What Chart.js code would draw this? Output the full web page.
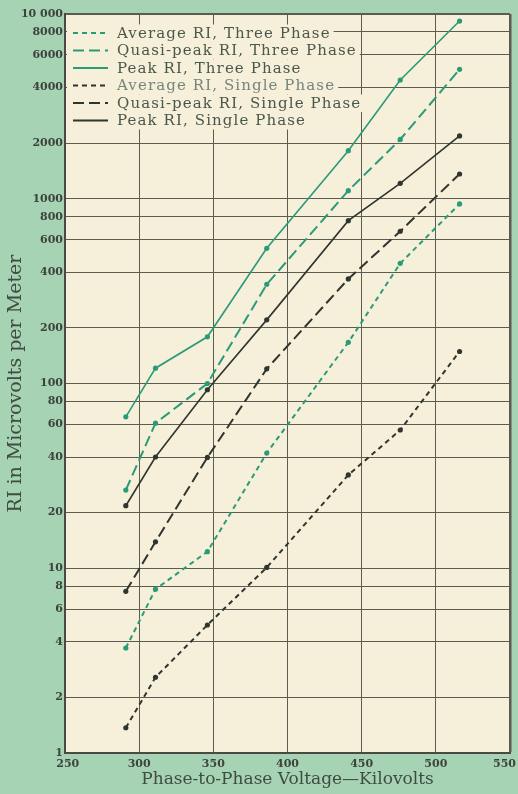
<!DOCTYPE html>
<html>
<head>
<meta charset="utf-8">
<script src="https://cdn.jsdelivr.net/npm/chart.js@4/dist/chart.umd.min.js"></script>
<style>
  html, body { margin: 0; padding: 0; background: #a6d3b4; }
  canvas { display: block; }
</style>
</head>
<body>
<canvas id="c" width="518" height="794" style="width:518px;height:794px"></canvas>
<script>
// ---- data ----
const voltages = [291, 311, 346, 386, 441, 476, 516];
const avgThree  = [3.7, 7.7, 12.3, 42, 167, 447, 937];
const qpThree   = [26.5, 61, 100, 344, 1106, 2095, 5017];
const peakThree = [66, 121, 179, 539, 1820, 4393, 9160];
const avgSingle  = [1.37, 2.57, 4.93, 10.1, 32, 56, 149];
const qpSingle   = [7.5, 13.9, 39.8, 120, 368, 667, 1361];
const peakSingle = [21.8, 40, 92.5, 221, 761, 1212, 2187];
const seriesLabels = [
  'Average RI, Three Phase',
  'Quasi-peak RI, Three Phase',
  'Peak RI, Three Phase',
  'Average RI, Single Phase',
  'Quasi-peak RI, Single Phase',
  'Peak RI, Single Phase'
];
const xTickValues = [250, 300, 350, 400, 450, 500, 550];
const xTickLabels = ['\u2002250', '300', '350', '400', '450', '500', '550\u2002\u2002'];
const yTickValues = [1, 2, 4, 6, 8, 10, 20, 40, 60, 80, 100, 200, 400, 600, 800, 1000, 2000, 4000, 6000, 8000, 10000];
const yTickLabels = ['1', '2', '4', '6', '8', '10', '20', '40', '60', '80', '100', '200', '400', '600', '800', '1000', '2000', '4000', '6000', '8000', '10 000'];
const xTitle = 'Phase-to-Phase Voltage\u2014Kilovolts';
const yTitle = 'RI in Microvolts per Meter';

// ---- styles ----
const TEAL = '#2a9b77';
const DARK = '#2f352f';
const GRID = '#5b5b52';
const CREAM = '#f6efda';
const TEXT = '#4a574b';
const SERIF = '"DejaVu Serif"';

function pts(arr) { return voltages.map((x, i) => ({ x: x, y: arr[i] })); }

const styles = [
  { color: TEAL, dash: [5, 4], width: 2 },
  { color: TEAL, dash: [11, 5], width: 2 },
  { color: TEAL, dash: [], width: 1.6 },
  { color: DARK, dash: [5, 4], width: 2 },
  { color: DARK, dash: [11, 5], width: 2 },
  { color: DARK, dash: [], width: 1.6 }
];
const allSeries = [avgThree, qpThree, peakThree, avgSingle, qpSingle, peakSingle];

const datasets = allSeries.map((s, i) => ({
  label: seriesLabels[i],
  data: pts(s),
  borderColor: styles[i].color,
  backgroundColor: styles[i].color,
  borderDash: styles[i].dash,
  borderWidth: styles[i].width,
  pointRadius: 2.6,
  pointBorderWidth: 0,
  pointBackgroundColor: styles[i].color,
  tension: 0,
  fill: false
}));

const bgPlugin = {
  id: 'bg',
  beforeDraw(chart) {
    const { ctx, chartArea: a } = chart;
    ctx.save();
    ctx.fillStyle = '#a6d3b4';
    ctx.fillRect(0, 0, chart.width, chart.height);
    ctx.fillStyle = CREAM;
    ctx.fillRect(a.left, a.top, a.right - a.left, a.bottom - a.top);
    ctx.restore();
  }
};

const legendPlugin = {
  id: 'customLegend',
  beforeDatasetsDraw(chart) {
    const ctx = chart.ctx;
    const a = chart.chartArea;
    ctx.save();
    ctx.font = '15px ' + SERIF;
    ctx.letterSpacing = '1.1px';
    ctx.textBaseline = 'middle';
    const x0 = a.left + 8;
    const lineLen = 35;
    const textX = x0 + 44;
    const y0 = a.top + 19;
    const step = 17.5;
    chart.data.datasets.forEach((ds, i) => {
      const y = y0 + i * step;
      const w = ctx.measureText(ds.label).width;
      ctx.fillStyle = CREAM;
      ctx.fillRect(a.left + 2, y - 8.5, textX + w + 3 - (a.left + 2), 17.5);
      ctx.strokeStyle = ds.borderColor;
      ctx.lineWidth = 2.2;
      ctx.setLineDash(ds.borderDash);
      ctx.beginPath();
      ctx.moveTo(x0, y);
      ctx.lineTo(x0 + lineLen, y);
      ctx.stroke();
      ctx.setLineDash([]);
      ctx.fillStyle = i === 3 ? '#76857a' : TEXT;
      ctx.fillText(ds.label, textX, y + 1);
    });
    ctx.restore();
  }
};

new Chart(document.getElementById('c'), {
  type: 'line',
  data: { datasets: datasets },
  plugins: [bgPlugin, legendPlugin],
  options: {
    responsive: false,
    animation: false,
    layout: { padding: { left: 0, right: 8, top: 14, bottom: 0 } },
    plugins: { legend: { display: false }, tooltip: { enabled: false } },
    scales: {
      x: {
        type: 'linear',
        min: 250,
        max: 550,
        afterBuildTicks(s) { s.ticks = xTickValues.map(v => ({ value: v })); },
        ticks: {
          autoSkip: false,
          maxRotation: 0,
          padding: 5,
          color: '#3d423d',
          font: { family: SERIF, size: 11, weight: 'bold' },
          callback: (v) => xTickLabels[xTickValues.indexOf(v)]
        },
        grid: {
          color: GRID,
          lineWidth: (c) => (c.tick && c.tick.value === 550 ? 2.5 : 1),
          drawTicks: false
        },
        border: { color: '#4a4a44', width: 2 },
        title: {
          display: true,
          text: xTitle,
          color: '#3f4c41',
          font: { family: SERIF, size: 17 },
          padding: { top: 0, bottom: 3.8 }
        },
        afterFit(s) { s.height = 41; s.paddingLeft = 0; s.paddingRight = 0; }
      },
      y: {
        type: 'logarithmic',
        min: 1,
        max: 10000,
        afterBuildTicks(s) { s.ticks = yTickValues.map(v => ({ value: v })); },
        ticks: {
          autoSkip: false,
          padding: 2,
          color: '#3d423d',
          font: { family: SERIF, size: 11, weight: 'bold' },
          callback: (v) => yTickLabels[yTickValues.indexOf(v)]
        },
        grid: {
          color: GRID,
          lineWidth: (c) => (c.tick && c.tick.value === 10000 ? 2 : 1),
          drawTicks: false
        },
        border: { color: '#4a4a44', width: 2 },
        title: {
          display: true,
          text: yTitle,
          color: '#3f4c41',
          font: { family: SERIF, size: 19 },
          padding: { top: 4.6, bottom: 0 }
        },
        afterFit(s) { s.width = 65; s.paddingTop = 0; s.paddingBottom = 0; }
      }
    }
  }
});
</script>
</body>
</html>
